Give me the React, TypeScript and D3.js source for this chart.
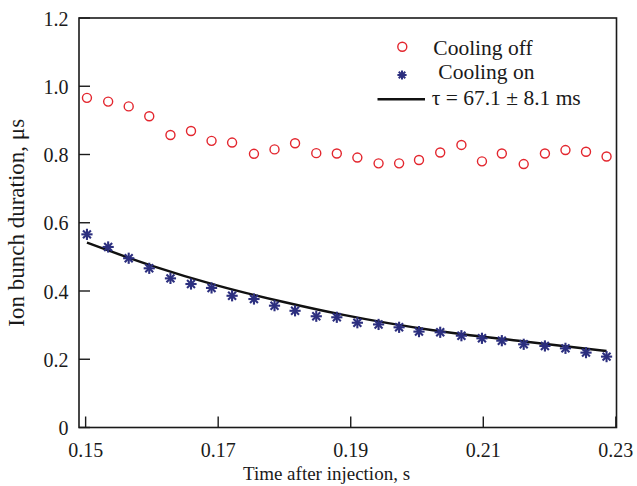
import React from "react";
import * as d3 from "d3";

const times = [0.1502, 0.1534, 0.1565, 0.1596, 0.1628, 0.1659, 0.169, 0.1721, 0.1754, 0.1785, 0.1816, 0.1848, 0.1879, 0.191, 0.1942, 0.1973, 0.2003, 0.2035, 0.2067, 0.2098, 0.2128, 0.2161, 0.2193, 0.2224, 0.2255, 0.2286];
const coolingOff = [0.966, 0.955, 0.941, 0.912, 0.857, 0.869, 0.84, 0.835, 0.802, 0.815, 0.833, 0.804, 0.803, 0.791, 0.774, 0.774, 0.784, 0.806, 0.828, 0.78, 0.803, 0.772, 0.803, 0.813, 0.808, 0.794];
const coolingOn = [0.566, 0.529, 0.496, 0.4665, 0.437, 0.4205, 0.409, 0.386, 0.3765, 0.357, 0.342, 0.326, 0.323, 0.307, 0.302, 0.2936, 0.281, 0.279, 0.269, 0.2614, 0.2544, 0.2438, 0.239, 0.232, 0.2194, 0.2077];
const fitTimes = [0.1502, 0.1598, 0.1698, 0.1799, 0.1889, 0.2024, 0.2165, 0.2286];
const fitValues = [0.5416, 0.4753, 0.4167, 0.3678, 0.33, 0.285, 0.2514, 0.2242];
const xTicks = [0.15, 0.17, 0.19, 0.21, 0.23];
const yTicks = [0, 0.2, 0.4, 0.6, 0.8, 1.0, 1.2];
const legendLabels = ["Cooling off", "Cooling on", "τ = 67.1 ± 8.1 ms"];

const W = 637, H = 486;
const L = 79, R = 616.5, T = 18, B = 427.5;
const FONT = "Liberation Serif, Times New Roman, Times, serif";
const RED = "#e3262e";
const BLUE = "#2c2f7f";
const INK = "#1a1a1a";
const tStyle = { fontFamily: FONT };

function Star({ cx, cy, r, w }: { cx: number; cy: number; r: number; w: number }) {
  const angles = [0, 45, 90, 135];
  return (
    <g stroke={BLUE} strokeWidth={w} strokeLinecap="butt">
      {angles.map((a) => {
        const rad = (a * Math.PI) / 180;
        const dx = Math.cos(rad) * r, dy = Math.sin(rad) * r;
        return <line key={a} x1={cx - dx} y1={cy - dy} x2={cx + dx} y2={cy + dy} />;
      })}
    </g>
  );
}

export default function App() {
  const x = d3.scaleLinear().domain([0.149, 0.2301]).range([L, R]);
  const y = d3.scaleLinear().domain([0, 1.2]).range([B, T]);
  const fitLine = d3
    .line<number>()
    .x((_, i) => x(fitTimes[i]))
    .y((d) => y(d))
    .curve(d3.curveMonotoneX)(fitValues) as string;

  return (
    <svg width={W} height={H} style={{ position: "absolute", left: 0, top: 0, background: "#fff", fontFamily: FONT }}>
      <rect x={0} y={0} width={W} height={H} fill="#fff" />
      {/* frame */}
      <rect x={L} y={T} width={R - L} height={B - T} fill="none" stroke={INK} strokeWidth={1.6} />
      {/* y ticks */}
      {yTicks.map((t) => (
        <g key={"y" + t}>
          <line x1={L} x2={L + 11} y1={y(t)} y2={y(t)} stroke={INK} strokeWidth={1.4} />
          <text x={68.5} y={y(t) + 7.5} fontSize={20} textAnchor="end" fill={INK} style={tStyle}>
            {t === 0 ? "0" : t.toFixed(1)}
          </text>
        </g>
      ))}
      {/* x ticks */}
      {xTicks.map((t) => (
        <g key={"x" + t}>
          <line x1={x(t)} x2={x(t)} y1={B} y2={B - 11} stroke={INK} strokeWidth={1.4} />
          <text x={x(t)} y={457} fontSize={20} textAnchor="middle" fill={INK} style={tStyle}>
            {t.toFixed(2)}
          </text>
        </g>
      ))}
      {/* axis labels */}
      <text x={326.5} y={480} fontSize={19} textAnchor="middle" fill={INK} style={tStyle}>
        Time after injection, s
      </text>
      <text
        transform={`translate(23.5,${(T + B) / 2}) rotate(-90)`}
        fontSize={23}
        textAnchor="middle"
        fill={INK}
        style={tStyle}
      >
        Ion bunch duration, μs
      </text>
      {/* fit line */}
      <path d={fitLine} fill="none" stroke="#111" strokeWidth={2.4} />
      {/* cooling off */}
      {coolingOff.map((v, i) => (
        <circle key={"o" + i} cx={x(times[i])} cy={y(v)} r={4.5} fill="none" stroke={RED} strokeWidth={1.4} />
      ))}
      {/* cooling on */}
      {coolingOn.map((v, i) => (
        <Star key={"s" + i} cx={x(times[i])} cy={y(v)} r={5.6} w={2.1} />
      ))}
      {/* legend */}
      <circle cx={402.3} cy={46.7} r={4.5} fill="none" stroke={RED} strokeWidth={1.4} />
      <text x={433.3} y={54.5} fontSize={21.5} fill={INK} style={tStyle}>{legendLabels[0]}</text>
      <Star cx={402} cy={75} r={4.6} w={2} />
      <text x={438.3} y={78.5} fontSize={21.5} fill={INK} style={tStyle}>{legendLabels[1]}</text>
      <line x1={377.5} x2={425} y1={99.3} y2={99.3} stroke="#111" strokeWidth={2.4} />
      <text x={431.7} y={104.5} fontSize={21.5} fill={INK} style={tStyle}>{legendLabels[2]}</text>
    </svg>
  );
}
